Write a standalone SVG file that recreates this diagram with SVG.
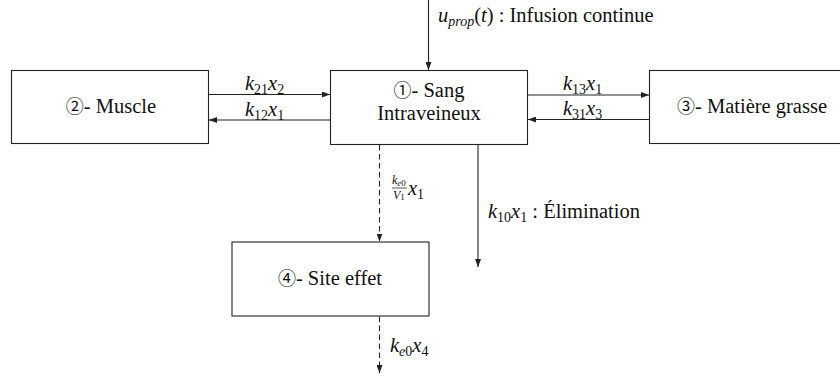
<svg xmlns="http://www.w3.org/2000/svg" width="840" height="381" viewBox="0 0 840 381">
<style>
.box{fill:#fff;stroke:#222;stroke-width:1.1}
.ln{fill:none;stroke:#222;stroke-width:1.1}
.dash{stroke-dasharray:5.5 3.5}
text{font-family:"Liberation Serif","Noto Sans CJK SC",serif;font-size:20.5px;fill:#111}
.m{font-style:italic}
.s{font-size:14px;font-style:italic}
.sn{font-size:14px;font-style:normal}
.c{font-family:"Noto Sans CJK SC","DejaVu Sans",sans-serif;font-size:18px}
.f{font-size:12px}
.fs{font-size:9px}
</style>
<defs>
<marker id="ah" viewBox="0 0 8 6" refX="8" refY="3" markerWidth="8" markerHeight="6" markerUnits="userSpaceOnUse" orient="auto">
<path d="M0,0 L8,3 L0,6 z" fill="#222"/>
</marker>
</defs>
<g id="n1">
<rect class="box" x="330.5" y="70.5" width="197" height="74"/>
<text x="429" y="97" text-anchor="middle"><tspan class="c">①</tspan>- Sang</text>
<text x="429" y="120" text-anchor="middle">Intraveineux</text>
</g>
<g id="n2">
<rect class="box" x="11.5" y="70.5" width="197" height="73"/>
<text x="111" y="113" text-anchor="middle"><tspan class="c">②</tspan>- Muscle</text>
</g>
<g id="n3">
<rect class="box" x="649.5" y="70.5" width="197" height="73"/>
<text x="752" y="113" text-anchor="middle"><tspan class="c">③</tspan>- Matière grasse</text>
</g>
<g id="n4">
<rect class="box" x="232" y="242" width="197" height="74"/>
<text x="330" y="285" text-anchor="middle"><tspan class="c">④</tspan>- Site effet</text>
</g>
<g id="connectors">
<line class="ln" x1="428.5" y1="0" x2="428.5" y2="70" marker-end="url(#ah)"/>
<line class="ln" x1="208" y1="94.5" x2="330" y2="94.5" marker-end="url(#ah)"/>
<line class="ln" x1="330" y1="120" x2="209" y2="120" marker-end="url(#ah)"/>
<line class="ln" x1="527" y1="95" x2="649" y2="95" marker-end="url(#ah)"/>
<line class="ln" x1="649" y1="119.5" x2="528" y2="119.5" marker-end="url(#ah)"/>
<line class="ln dash" x1="379.5" y1="145" x2="379.5" y2="241.5" marker-end="url(#ah)"/>
<line class="ln" x1="478" y1="144.5" x2="478" y2="267" marker-end="url(#ah)"/>
<line class="ln dash" x1="379.5" y1="316.5" x2="379.5" y2="373" marker-end="url(#ah)"/>
</g>
<g id="labels">
<text x="438" y="22"><tspan class="m">u</tspan><tspan class="s" dy="4">prop</tspan><tspan dy="-4">(</tspan><tspan class="m">t</tspan>) : Infusion continue</text>
<text x="245" y="90"><tspan class="m">k</tspan><tspan class="sn" dy="4">21</tspan><tspan class="m" dy="-4">x</tspan><tspan class="sn" dy="4">2</tspan></text>
<text x="245" y="115.5"><tspan class="m">k</tspan><tspan class="sn" dy="4">12</tspan><tspan class="m" dy="-4">x</tspan><tspan class="sn" dy="4">1</tspan></text>
<text x="563" y="90"><tspan class="m">k</tspan><tspan class="sn" dy="4">13</tspan><tspan class="m" dy="-4">x</tspan><tspan class="sn" dy="4">1</tspan></text>
<text x="563" y="114.5"><tspan class="m">k</tspan><tspan class="sn" dy="4">31</tspan><tspan class="m" dy="-4">x</tspan><tspan class="sn" dy="4">3</tspan></text>
<text class="f" x="392" y="184"><tspan class="m">k</tspan><tspan class="fs m" dy="2">e</tspan><tspan class="fs">0</tspan></text>
<line x1="392" y1="188" x2="407" y2="188" stroke="#111" stroke-width="0.7"/>
<text class="f" x="393" y="199"><tspan class="m">V</tspan><tspan class="fs" dy="1">1</tspan></text>
<text x="408" y="195"><tspan class="m">x</tspan><tspan class="sn" dy="4">1</tspan></text>
<text x="488" y="218"><tspan class="m">k</tspan><tspan class="sn" dy="4">10</tspan><tspan class="m" dy="-4">x</tspan><tspan class="sn" dy="4">1</tspan><tspan dy="-4"> : Élimination</tspan></text>
<text x="390" y="352"><tspan class="m">k</tspan><tspan class="s" dy="4">e</tspan><tspan class="sn">0</tspan><tspan class="m" dy="-4">x</tspan><tspan class="sn" dy="4">4</tspan></text>
</g>
</svg>
